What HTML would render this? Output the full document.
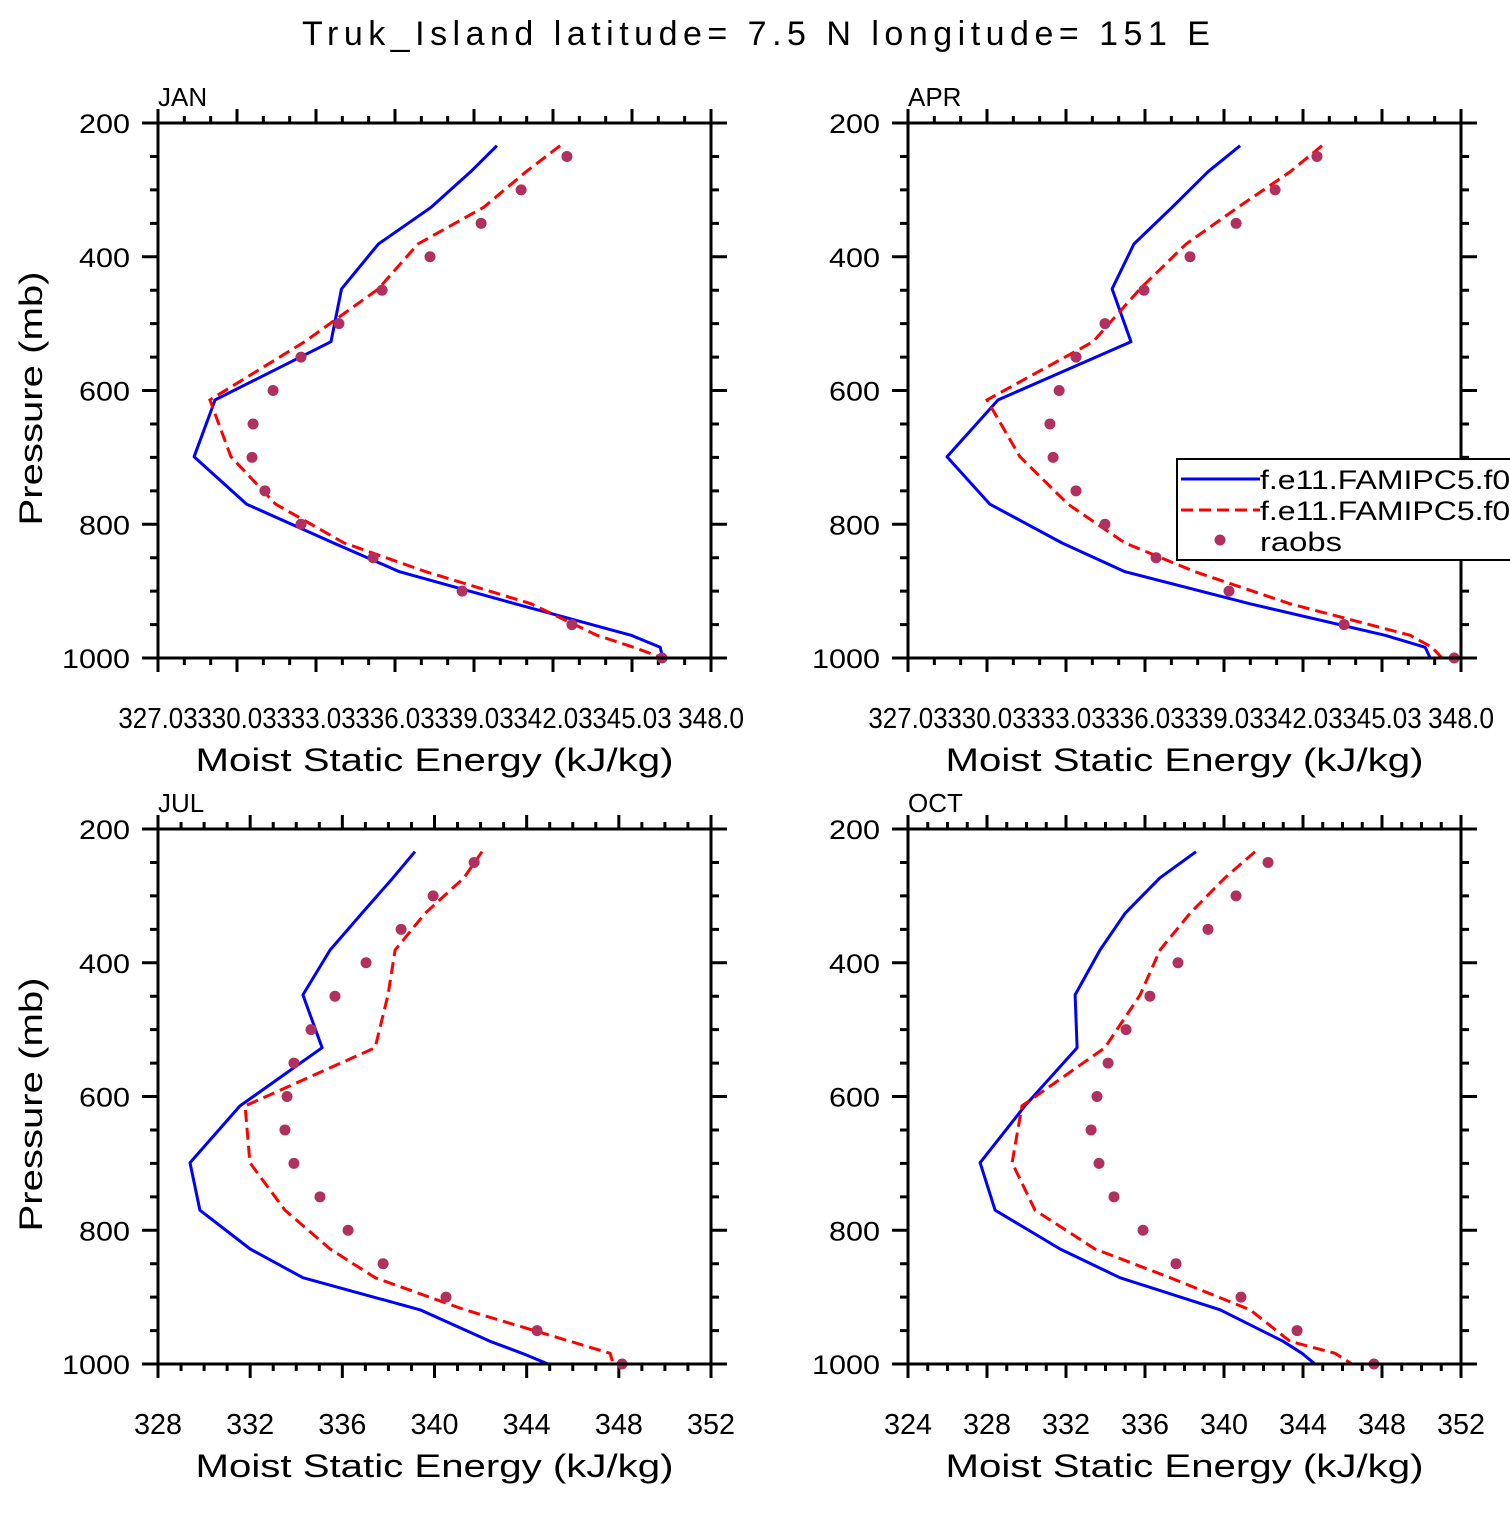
<!DOCTYPE html>
<html><head><meta charset="utf-8"><style>
body{margin:0;background:#fff}
svg text{font-family:"Liberation Sans","DejaVu Sans",sans-serif;fill:#000}
</style></head><body>
<svg id="c" width="1510" height="1510" viewBox="0 0 1510 1510" xmlns="http://www.w3.org/2000/svg">
<text x="302" y="45" font-size="34" textLength="908" lengthAdjust="spacing">Truk_Island   latitude=  7.5  N  longitude=  151  E</text>
</svg>
<script>
const levels=[234,273,326,381,448,527,614,699,770,828,871,919,966,984,1000];
const obsLevels=[250,300,350,400,450,500,550,600,650,700,750,800,850,900,950,1000];
const janModel1=[339.9,338.9,337.4,335.4,334.0,333.6,329.2,328.4,330.4,333.7,336.2,340.6,345.0,346.1,346.2];
const janModel2=[342.3,341.0,339.4,336.9,335.4,332.6,329.0,329.8,331.5,334.1,337.2,341.2,343.7,345.1,346.2];
const janObs=[342.56,340.82,339.30,337.36,335.54,333.90,332.46,331.40,330.64,330.60,331.09,332.46,335.20,338.58,342.75,346.17];
const aprModel1=[339.64,338.42,337.06,335.61,334.78,335.50,330.45,328.51,330.14,332.88,335.27,340.02,345.15,346.67,346.86];
const aprModel2=[342.75,341.54,339.56,337.59,335.84,334.06,330.03,331.28,333.11,335.27,337.93,341.54,346.10,346.93,347.31];
const aprObs=[342.56,340.97,339.49,337.74,335.99,334.51,333.41,332.77,332.42,332.54,333.41,334.51,336.45,339.22,343.59,347.77];
const julModel1=[339.15,338.2,336.85,335.47,334.29,335.12,331.56,329.39,329.82,332.0,334.29,339.37,342.41,343.8,344.93];
const julModel2=[342.06,341.28,339.59,338.29,337.98,337.42,331.78,331.99,333.51,335.47,337.42,341.32,345.88,347.62,347.75];
const julObs=[341.72,339.94,338.55,337.03,335.68,334.64,333.90,333.60,333.51,333.90,335.03,336.25,337.77,340.5,344.45,348.14];
const octModel1=[338.58,336.76,334.99,333.72,332.46,332.56,329.92,327.65,328.41,331.70,334.73,339.80,342.99,343.95,344.61];
const octModel2=[341.57,340.05,338.28,336.76,335.75,333.97,329.77,329.27,330.43,333.47,337.27,341.32,343.34,345.62,346.48];
const octObs=[342.23,340.61,339.19,337.67,336.25,335.04,334.13,333.57,333.27,333.67,334.43,335.90,337.57,340.86,343.70,347.59];
const janTicks=["327.03","330.03","333.03","336.03","339.03","342.03","345.03","348.0"];
const julTicks=["328","332","336","340","344","348","352"];
const octTicks=["324","328","332","336","340","344","348","352"];
const yTicks=[200,400,600,800,1000];

const NS="http://www.w3.org/2000/svg";
const svg=document.getElementById('c');
function mk(tag,attrs,parent){const e=document.createElementNS(NS,tag);for(const k in attrs)e.setAttribute(k,attrs[k]);(parent||svg).appendChild(e);return e;}

function panel(cfg){
  const g=mk('g',{});
  
  
  const L=cfg.x0,R=cfg.x0+553,T=cfg.y0,B=cfg.y0+535;
  const xs=v=>L+(v-cfg.xmin)/(cfg.xmax-cfg.xmin)*553;
  const ys=p=>T+(p-200)/800*535;
  let d='';
  for(let p=200;p<=1000;p+=50){const maj=p%200===0;const len=maj?16:8;const y=ys(p);
    d+=`M${L-len},${y}H${L}M${R},${y}H${R+len}`;}
  for(let v=cfg.xmin;v<=cfg.xmax+1e-6;v+=cfg.minor){const k=Math.round((v-cfg.xmin)/cfg.minor);const maj=k%cfg.every===0;const len=maj?14:7;const x=xs(v);
    d+=`M${x},${B}V${B+len}M${x},${T}V${T-len}`;}
  const tk=mk('path',{d:d,stroke:'#000','stroke-width':3,fill:'none'},g);
  
  
  yTicks.forEach(p=>{const s=String(p);const t=mk('text',{x:L-28,y:ys(p)+10,'font-size':27,'text-anchor':'end',textLength:s.length*17,lengthAdjust:'spacingAndGlyphs'},g);t.textContent=s;
    
    });
  cfg.ticks.forEach((s,i)=>{const x=L+i*553/(cfg.ticks.length-1);const w=s.length>4?s.length*13.2:s.length*16;const t=mk('text',{x:x,y:B+70,'font-size':29,'text-anchor':'middle',textLength:w,lengthAdjust:'spacingAndGlyphs'},g);t.textContent=s;
    
    });
  const xt=mk('text',{x:(L+R)/2,y:B+113,'font-size':32,'text-anchor':'middle',textLength:478,lengthAdjust:'spacingAndGlyphs'},g);xt.textContent='Moist Static Energy (kJ/kg)';
  
  
  if(cfg.ylab){const yt=mk('text',{x:0,y:0,'font-size':32,'text-anchor':'middle',textLength:254,lengthAdjust:'spacingAndGlyphs',transform:`translate(42,${(T+B)/2+8}) rotate(-90)`},g);yt.textContent='Pressure (mb)';
    
    }
  const mt=mk('text',{x:L,y:T-17,'font-size':26},g);mt.textContent=cfg.name.toUpperCase();
  
  
  const pts=a=>a.map((v,i)=>`${xs(v).toFixed(1)},${ys(levels[i]).toFixed(1)}`).join(' ');
  const l1=mk('polyline',{points:pts(cfg.m1),fill:'none',stroke:'#0000ff','stroke-width':3,'stroke-linejoin':'round'},g);
  
  
  const l2=mk('polyline',{points:pts(cfg.m2),fill:'none',stroke:'#ff0000','stroke-width':3,'stroke-dasharray':'12,6'},g);
  
  
  cfg.obs.forEach((v,i)=>{const c=mk('circle',{cx:xs(v),cy:ys(obsLevels[i]),r:5.5,fill:'#b03060'},g);
    
    });
  const fr=mk('rect',{x:L,y:T,width:553,height:535,fill:'none',stroke:'#000','stroke-width':3},g);
  
  
}
panel({name:'jan',x0:158,y0:123,xmin:327.03,xmax:348.03,minor:1,every:3,ticks:janTicks,m1:janModel1,m2:janModel2,obs:janObs,ylab:true});
panel({name:'apr',x0:908,y0:123,xmin:327.03,xmax:348.03,minor:1,every:3,ticks:janTicks,m1:aprModel1,m2:aprModel2,obs:aprObs,ylab:false});
panel({name:'jul',x0:158,y0:829,xmin:328,xmax:352,minor:1,every:4,ticks:julTicks,m1:julModel1,m2:julModel2,obs:julObs,ylab:true});
panel({name:'oct',x0:908,y0:829,xmin:324,xmax:352,minor:1,every:4,ticks:octTicks,m1:octModel1,m2:octModel2,obs:octObs,ylab:false});

const lg=mk('g',{});


mk('rect',{x:1177,y:459,width:340,height:101,fill:'#fff',stroke:'#000','stroke-width':2},lg);
mk('line',{x1:1181,y1:479,x2:1260,y2:479,stroke:'#0000ff','stroke-width':3},lg);
mk('line',{x1:1181,y1:510,x2:1260,y2:510,stroke:'#ff0000','stroke-width':3,'stroke-dasharray':'12,6'},lg);
mk('circle',{cx:1220,cy:540,r:5.5,fill:'#b03060'},lg);
[['f.e11.FAMIPC5.f09',489,268],['f.e11.FAMIPC5.f09',520,268],['raobs',551,82]].forEach(([s,y,w])=>{const t=mk('text',{x:1260,y:y,'font-size':27,textLength:w,lengthAdjust:'spacingAndGlyphs'},lg);t.textContent=s;
  
  });
</script>
</body></html>
